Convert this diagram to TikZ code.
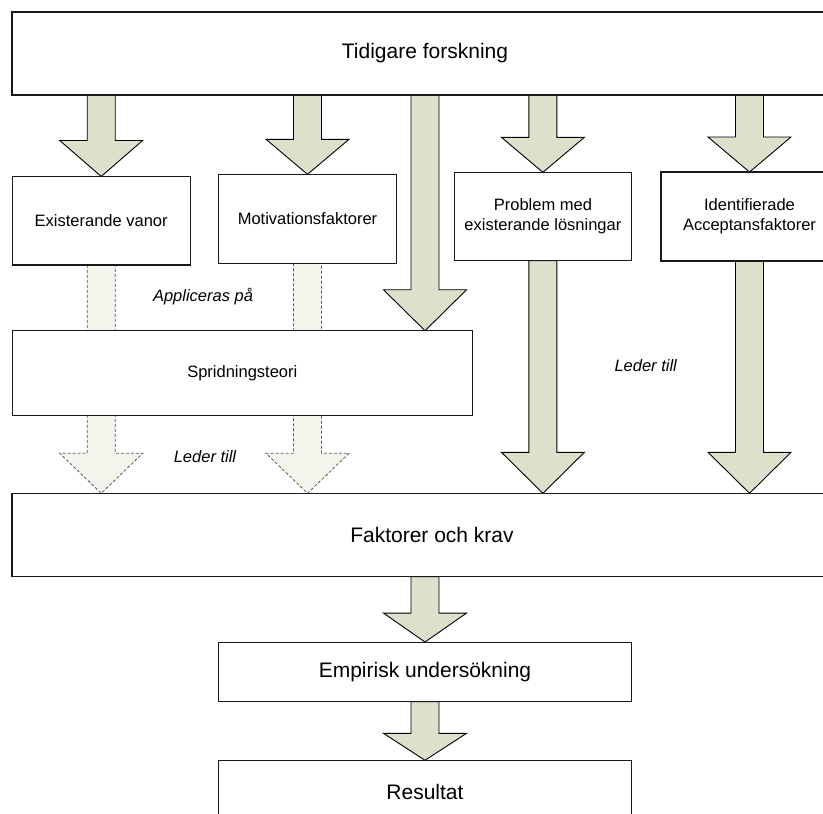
\documentclass[tikz,border=0pt]{standalone}
\usepackage{fontspec}
\setmainfont{Liberation Sans}
\usetikzlibrary{calc}
\pgfdeclarelayer{paper}
\pgfdeclarelayer{arrows}
\pgfsetlayers{paper,arrows,main}
\definecolor{arrowfill}{RGB}{221,224,203}
\definecolor{ghostfill}{RGB}{243,245,237}
\tikzset{
  box/.style={draw=black!90, line width=1.1pt, fill=white, inner sep=0pt, outer sep=0pt},
  bigtext/.style={font=\fontsize{21}{25}\selectfont},
  smalltext/.style={font=\fontsize{16.5}{20}\selectfont, align=center},
  note/.style={font=\fontsize{16.5}{20}\selectfont\itshape},
  solidarrow/.style={draw=black, line width=0.9pt, fill=arrowfill, line join=miter},
  ghostarrow/.style={draw=black!65, line width=0.8pt, fill=ghostfill, dash pattern=on 3pt off 2pt},
}
% block arrow: #2 start of the shaft, #3 tip, #4 length of the head
\newcommand\blockarrow[4][]{%
  \draw[#1] let \p1=(#2), \p2=(#3) in
    (\x2-14pt,\y1) -- (\x2-14pt,\y2+#4) -- (\x2-41.5pt,\y2+#4) -- (\x2,\y2)
    -- (\x2+41.5pt,\y2+#4) -- (\x2+14pt,\y2+#4) -- (\x2+14pt,\y1) -- cycle;}
\begin{document}
\begin{tikzpicture}[x=1pt, y=-1pt]
  \useasboundingbox (0,0) rectangle (823,814);
  \begin{pgfonlayer}{paper}
    \fill[white] (0,0) rectangle (823,814);
  \end{pgfonlayer}
  \clip (0,0) rectangle (823,814);

  % boxes
  \node[box, bigtext, minimum width=826, minimum height=83] (top) at (425,53.5) {Tidigare forskning};
  \node[box, smalltext, minimum width=177.7, minimum height=88.5] (ex) at (101.2,220.7) {Existerande vanor};
  \node[box, smalltext, minimum width=178.4, minimum height=89] (mot) at (307.5,218.8) {Motivationsfaktorer};
  \node[box, smalltext, minimum width=177.7, minimum height=88.4] (prob) at (542.9,216.5) {Problem med\\existerande lösningar};
  \node[box, smalltext, minimum width=177, minimum height=89] (ident) at (749.5,216.5) {Identifierade\\Acceptansfaktorer};
  \node[box, smalltext, minimum width=460, minimum height=84.3] (sprid) at (242.3,372.9) {Spridningsteori};
  \node[box, bigtext, minimum width=840, minimum height=83.4] (fak) at (432,535) {Faktorer och krav};
  \node[box, bigtext, minimum width=413.4, minimum height=59.7] (emp) at (425,671.9) {Empirisk undersökning};
  \node[box, bigtext, minimum width=413.4, minimum height=64] (res) at (425,792.3) {Resultat};

  % labels
  \node[note] (appl) at (203,297) {Appliceras på};
  \node[note] (led1) at (205,456.7) {Leder till};
  \node[note] (led2) at (645.7,365.7) {Leder till};

  \begin{pgfonlayer}{arrows}
    % dashed arrows, passing behind Spridningsteori
    \blockarrow[ghostarrow]{ex.south}{fak.north -| ex.south}{40pt}
    \blockarrow[ghostarrow]{mot.south}{fak.north -| mot.south}{40pt}
    % from Tidigare forskning
    \blockarrow[solidarrow]{top.south -| ex.north}{ex.north}{36pt}
    \blockarrow[solidarrow]{top.south -| mot.north}{mot.north}{35pt}
    \blockarrow[solidarrow]{top.south -| emp.north}{sprid.north -| emp.north}{41pt}
    \blockarrow[solidarrow]{top.south -| prob.north}{prob.north}{35pt}
    \blockarrow[solidarrow]{top.south -| ident.north}{ident.north}{35pt}
    % down to Faktorer och krav
    \blockarrow[solidarrow]{prob.south}{fak.north -| prob.south}{41pt}
    \blockarrow[solidarrow]{ident.south}{fak.north -| ident.south}{41pt}
    % lower chain
    \blockarrow[solidarrow]{fak.south -| emp.north}{emp.north}{29pt}
    \blockarrow[solidarrow]{emp.south}{res.north}{27pt}
  \end{pgfonlayer}
\end{tikzpicture}
\end{document}
